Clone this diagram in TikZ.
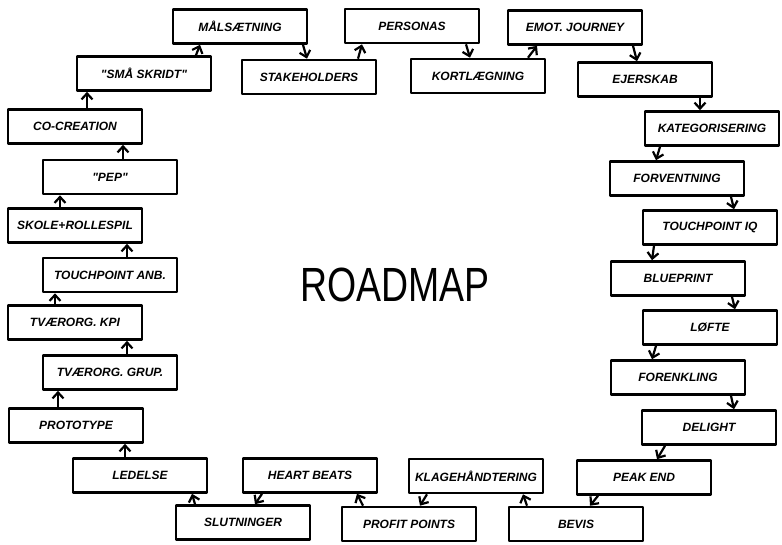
\documentclass[tikz,border=0pt]{standalone}
\usepackage{fontspec}
\setmainfont{Liberation Sans}[Ligatures=TeXOff]
\usetikzlibrary{arrows.meta}
\tikzset{
  stepbox/.style={draw, line width=2.6pt, line join=round, minimum width=134pt,
    minimum height=34pt, inner sep=2pt, font=\fontsize{12}{12}\selectfont\bfseries\itshape},
  flow/.style={line width=2.2pt, -{Straight Barb[length=6pt,width=11pt,line width=2.2pt]}}
}
\begin{document}
\begin{tikzpicture}[x=1pt,y=-1pt]
  \useasboundingbox (0,0) rectangle (782,545);
  % top row
  \node[stepbox] (mal)   at (240,26.5) {MÅLSÆTNING};
  \node[stepbox] (sma)   at (144,73.5) {"SMÅ SKRIDT"};
  \node[stepbox] (stake) at (309,77)   {STAKEHOLDERS};
  \node[stepbox] (pers)  at (412,26)   {PERSONAS};
  \node[stepbox] (kort)  at (478,76)   {KORTLÆGNING};
  \node[stepbox] (emot)  at (575,27.5) {EMOT. JOURNEY};
  \node[stepbox] (ejer)  at (645,79.5) {EJERSKAB};
  % right column
  \node[stepbox] (kat)   at (712,128.5) {KATEGORISERING};
  \node[stepbox] (forv)  at (677,178.5) {FORVENTNING};
  \node[stepbox] (tpiq)  at (710,227.5) {TOUCHPOINT IQ};
  \node[stepbox] (blue)  at (678,278.5) {BLUEPRINT};
  \node[stepbox] (lofte) at (710,327.5) {LØFTE};
  \node[stepbox] (foren) at (678,377.5) {FORENKLING};
  \node[stepbox] (del)   at (709,427.5) {DELIGHT};
  % bottom row
  \node[stepbox] (peak)   at (644,477.5) {PEAK END};
  \node[stepbox] (bevis)  at (576,524)   {BEVIS};
  \node[stepbox] (klage)  at (476,476)   {KLAGEHÅNDTERING};
  \node[stepbox] (profit) at (409,524)   {PROFIT POINTS};
  \node[stepbox] (heart)  at (310,475.5) {HEART BEATS};
  \node[stepbox] (slut)   at (243,522.5) {SLUTNINGER};
  \node[stepbox] (led)    at (140,475.5) {LEDELSE};
  % left column
  \node[stepbox] (proto) at (76,425.5)  {PROTOTYPE};
  \node[stepbox] (grp)   at (110,372.5) {TVÆRORG. GRUP.};
  \node[stepbox] (kpi)   at (75,322.5)  {TVÆRORG. KPI};
  \node[stepbox] (anb)   at (110,275)   {TOUCHPOINT ANB.};
  \node[stepbox] (skole) at (75,225.5)  {SKOLE+ROLLESPIL};
  \node[stepbox] (pep)   at (110,177)   {"PEP"};
  \node[stepbox] (co)    at (75,126.5)  {CO-CREATION};
  % title
  \node[font=\fontsize{48}{48}\selectfont, xscale=0.78] (title) at (395,285) {ROADMAP};
  % connectors, going up on the left
  \draw[flow] (led.north -| 125,0)   -- (proto.south -| 125,0);
  \draw[flow] (proto.north -| 58,0)  -- (grp.south -| 58,0);
  \draw[flow] (grp.north -| 127,0)   -- (kpi.south -| 127,0);
  \draw[flow] (kpi.north -| 55,0)    -- (anb.south -| 55,0);
  \draw[flow] (anb.north -| 127,0)   -- (skole.south -| 127,0);
  \draw[flow] (skole.north -| 60,0)  -- (pep.south -| 60,0);
  \draw[flow] (pep.north -| 123,0)   -- (co.south -| 123,0);
  \draw[flow] (co.north -| 87,0)     -- (sma.south -| 87,0);
  \draw[flow] (sma.north -| 196,0)   -- (mal.south -| 200,0);
  % along the top
  \draw[flow] (mal.south -| 303,0)   -- (stake.north -| 307,0);
  \draw[flow] (stake.north -| 358,0) -- (pers.south -| 362,0);
  \draw[flow] (pers.south -| 466,0)  -- (kort.north -| 470,0);
  \draw[flow] (kort.north -| 528,0)  -- (emot.south -| 537,0);
  \draw[flow] (emot.south -| 633,0)  -- (ejer.north -| 637,0);
  % down the right
  \draw[flow] (ejer.south -| 700,0)  -- (kat.north -| 700,0);
  \draw[flow] (kat.south -| 660,0)   -- (forv.north -| 656,0);
  \draw[flow] (forv.south -| 731,0)  -- (tpiq.north -| 734,0);
  \draw[flow] (tpiq.south -| 654,0)  -- (blue.north -| 652,0);
  \draw[flow] (blue.south -| 732,0)  -- (lofte.north -| 735,0);
  \draw[flow] (lofte.south -| 656,0) -- (foren.north -| 652,0);
  \draw[flow] (foren.south -| 731,0) -- (del.north -| 734,0);
  \draw[flow] (del.south -| 665,0)   -- (peak.north -| 657,0);
  % along the bottom
  \draw[flow] (peak.south -| 598,0)   -- (bevis.north -| 590,0);
  \draw[flow] (bevis.north -| 527,0)  -- (klage.south -| 523,0);
  \draw[flow] (klage.south -| 427,0)  -- (profit.north -| 420,0);
  \draw[flow] (profit.north -| 363,0) -- (heart.south -| 357,0);
  \draw[flow] (heart.south -| 262,0)  -- (slut.north -| 255,0);
  \draw[flow] (slut.north -| 195,0)   -- (led.south -| 192,0);
\end{tikzpicture}
\end{document}
